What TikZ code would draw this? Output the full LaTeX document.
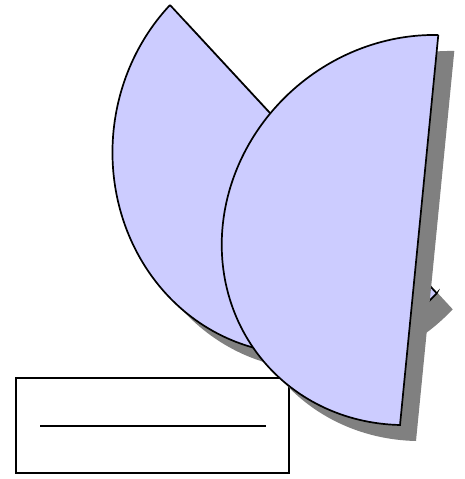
\documentclass[tikz,border=0pt]{standalone}
\definecolor{lav}{HTML}{CCCCFF}
\definecolor{shd}{HTML}{808080}
\tikzset{
  discfill/.style={fill=lav, draw=black, line width=1.7pt},
  discshade/.style={fill=shd, draw=none},
  boxline/.style={draw=black, line width=1.7pt}
}
% half ellipses: straight edge P--Q, arc = M + cos(t) h + sin(t) k
\def\backshp{(170,5) -- (436.7,293.3) -- plot[domain=0:180, samples=120, variable=\t] ({303.35+cos(\t)*133.35-sin(\t)*136.6},{149.15+cos(\t)*144.15+sin(\t)*145.4}) -- cycle}
\def\frontshp{(438.3,35) -- (400,425) -- plot[domain=0:180, samples=120, variable=\t] ({419.15-cos(\t)*19.15-sin(\t)*196.5},{230+cos(\t)*195-sin(\t)*4.2}) -- cycle}
\begin{document}
\begin{tikzpicture}[x=1pt,y=-1pt]
\useasboundingbox (0,0) rectangle (464,479);
% box with inner line
\draw[boxline, fill=white] (16,378) rectangle (289,473);
\coordinate (la) at (40,425.7);
\coordinate (lb) at (265.7,425.7);
\draw[boxline] (la) -- (lb);
% back half disc
\fill[discshade, shift={(16,16)}] \backshp;
\path[discfill] \backshp;
% front half disc
\fill[discshade, shift={(16,16)}] \frontshp;
\path[discfill] \frontshp;
\end{tikzpicture}
\end{document}
